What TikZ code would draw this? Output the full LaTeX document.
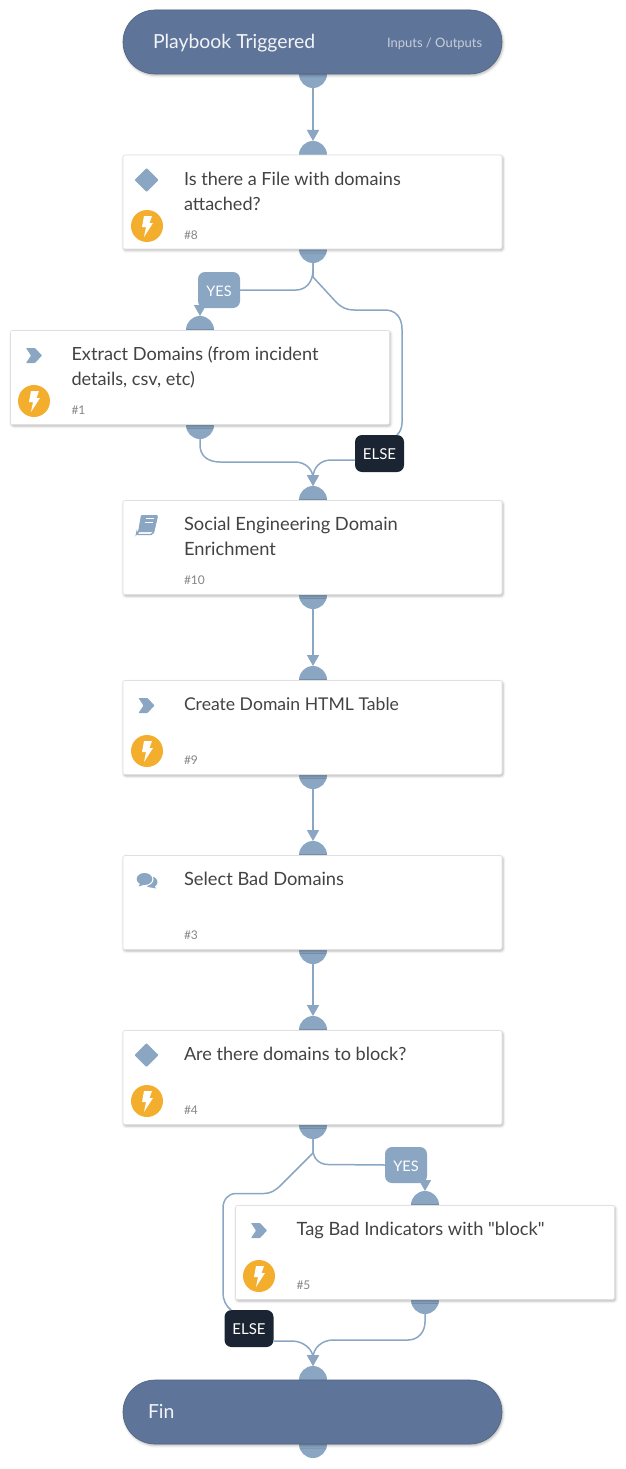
\documentclass[tikz,border=0pt]{standalone}
\usepackage{fontspec}
\setmainfont{Lato}
\newfontfamily\plainlato{Lato}
\usetikzlibrary{arrows.meta,shadows.blur}
\definecolor{portc}{HTML}{8AA6C3}
\definecolor{capc}{HTML}{5F7499}
\definecolor{darkc}{HTML}{1B2432}
\definecolor{textc}{HTML}{434343}
\definecolor{numc}{HTML}{858585}
\definecolor{boltc}{HTML}{F4AE2E}
\tikzset{
  port/.style={circle,fill=portc,draw=none,minimum size=28pt,inner sep=0pt,outer sep=0pt},
  taskbox/.style={rectangle,fill=white,draw=black!12,line width=.6pt,rounded corners=2pt,minimum width=379pt,minimum height=94pt,inner sep=0pt,outer sep=0pt,blur shadow={shadow xshift=1pt,shadow yshift=-1.5pt,shadow blur radius=2.5pt,shadow opacity=30}},
  capbox/.style={rectangle,fill=capc,draw=capc!85!black,line width=.6pt,rounded corners=32pt,minimum width=379pt,minimum height=64pt,inner sep=0pt,outer sep=0pt,blur shadow={shadow xshift=1pt,shadow yshift=-1.5pt,shadow blur radius=2.5pt,shadow opacity=30}},
  yeslab/.style={rectangle,fill=portc,rounded corners=7pt,minimum width=42pt,minimum height=36pt,inner sep=0pt,outer sep=0pt,text=white,text height=12.5pt,text depth=0pt,font=\fontsize{14.5}{18}\selectfont},
  elselab/.style={rectangle,fill=darkc,rounded corners=7pt,minimum width=49pt,minimum height=37pt,inner sep=0pt,outer sep=0pt,text=white,text height=12.5pt,text depth=0pt,font=\fontsize{15}{18}\selectfont},
  title/.style={anchor=north west,inner sep=0pt,outer sep=0pt,align=left,text=textc,font=\fontsize{18.3}{25}\selectfont},
  numlab/.style={anchor=base west,inner sep=0pt,outer sep=0pt,text=numc,font=\fontsize{12}{14}\selectfont},
  captitle/.style={anchor=base west,inner sep=0pt,outer sep=0pt,text=white!92!capc,font=\fontsize{19.4}{24}\selectfont},
  capside/.style={anchor=base west,inner sep=0pt,outer sep=0pt,text=white!65!capc,font=\fontsize{13}{16}\selectfont},
  flow/.style={draw=portc,line width=1.5pt,line join=round},
  arrowflow/.style={flow,-{Triangle[length=11pt,width=12pt]}},
  badge/.style={circle,fill=boltc,minimum size=32pt,inner sep=0pt,outer sep=0pt},
  chevicon/.pic={\fill[portc,rounded corners=.6pt] (-8,-7.5)--(1,-7.5)--(8,0)--(1,7.5)--(-8,7.5)--(-3,0)--cycle;},
  diaicon/.pic={\fill[portc,rounded corners=1pt] (0,-12)--(12,0)--(0,12)--(-12,0)--cycle;},
  boltmark/.pic={\fill[white] (-3,-10)--(5,-10)--(2.5,-3)--(6,-3)--(-3,11)--(-1,1)--(-5,1)--cycle;},
  bookicon/.pic={
    \fill[portc,rounded corners=1pt] (-6,-10)--(11,-10)--(7,7)--(-9,7)--cycle;
    \draw[portc,line width=1.4pt,rounded corners=2pt] (-7,6)--(-10,7)--(-10.5,9.5)--(6,9.5)--(10,-8);
    \draw[white,line width=1pt] (-1.5,-6.5)--(7,-6.5) (-2.5,-3)--(6,-3);
  },
  chaticon/.pic={
    \fill[portc] (4,2) ellipse [x radius=6.5,y radius=5.5];
    \fill[portc] (7,5)--(9,8.5)--(3,7)--cycle;
    \fill[white] (-2.5,-1) ellipse [x radius=9,y radius=7.2];
    \fill[white] (-7,4)--(-9.5,8.5)--(-1,6)--cycle;
    \fill[portc] (-2.5,-1) ellipse [x radius=7.8,y radius=6];
    \fill[portc] (-6.5,3)--(-8.5,6.5)--(-2,4.5)--cycle;
  },
}
\begin{document}
\begin{tikzpicture}[x=1pt,y=-1pt]
\useasboundingbox (0,0) rectangle (625,1469);
% ports
\node[port] (pSb) at (313,74) {};
\node[port] (p8t) at (313,155) {};
\node[port] (p8b) at (313,249) {};
\node[port] (p1t) at (200,330) {};
\node[port] (p1b) at (200,425) {};
\node[port] (p10t) at (313,500) {};
\node[port] (p10b) at (313,595) {};
\node[port] (p9t) at (313,680) {};
\node[port] (p9b) at (313,775) {};
\node[port] (p3t) at (313,855) {};
\node[port] (p3b) at (313,950) {};
\node[port] (p4t) at (313,1030) {};
\node[port] (p4b) at (313,1125) {};
\node[port] (p5t) at (425,1205) {};
\node[port] (p5b) at (425,1300) {};
\node[port] (pFt) at (313,1380) {};
\node[port] (pFb) at (313,1444) {};
% branch labels
\node[yeslab] (yes1) at (219,290) {YES};
\node[elselab] (else1) at (379.5,453.5) {ELSE};
\node[yeslab] (yes2) at (406,1165) {YES};
\node[elselab] (else2) at (249,1328.5) {ELSE};
% connectors
\draw[arrowflow] (pSb.south) -- (p8t.north);
\draw[flow] (p8b.south) -- (313,270) .. controls (313,282) and (306,290) .. (296,290) -- (yes1.east);
\draw[arrowflow] (yes1.south -| p1t.north) -- (p1t.north);
\draw[flow] (p8b.south) -- (313,277) -- (336,302) .. controls (342,308) and (347,310) .. (354,310) -- (385,310) .. controls (396,310) and (402,318) .. (402,329) -- (402,423) .. controls (402,428) and (400,432) .. (397,435) coordinate (e1in);
\draw[arrowflow] (p1b.south) -- (200,445) .. controls (200,456) and (208,462) .. (220,462) -- (295,462) .. controls (306,462) and (313,470) .. (313,478) -- (p10t.north);
\draw[arrowflow] (else1.west |- 355,460) -- (331,460) .. controls (320,460) and (313,468) .. (313,478) -- (p10t.north);
\draw[arrowflow] (p10b.south) -- (p9t.north);
\draw[arrowflow] (p9b.south) -- (p3t.north);
\draw[arrowflow] (p3b.south) -- (p4t.north);
\draw[flow] (p4b.south) -- (313,1150) .. controls (313,1158) and (319,1164.5) .. (328,1164.5) -- (yes2.west);
\draw[arrowflow] (yes2.south -| p5t.north) -- (p5t.north);
\draw[flow] (p4b.south) -- (313,1153) -- (281,1185) .. controls (275,1191) and (270,1193.5) .. (264,1193.5) -- (236,1193.5) .. controls (228,1193.5) and (223,1200) .. (223,1208) -- (223,1293) .. controls (223,1300) and (226,1306) .. (231,1310) coordinate (e2in);
\draw[arrowflow] (else2.east |- 274,1341) -- (292,1341) .. controls (303,1341) and (313,1349) .. (313,1358) -- (pFt.north);
\draw[arrowflow] (p5b.south) -- (425,1322) .. controls (425,1332) and (418,1340) .. (408,1340) -- (333,1340) .. controls (322,1340) and (313,1348) .. (313,1358) -- (pFt.north);
% boxes
\node[capbox] (nS) at (312.5,42) {};
\node[taskbox] (n8) at (312.5,202) {};
\node[taskbox] (n1) at (200,377.5) {};
\node[taskbox] (n10) at (312.5,547.5) {};
\node[taskbox] (n9) at (312.5,727.5) {};
\node[taskbox] (n3) at (312.5,902.5) {};
\node[taskbox] (n4) at (312.5,1077.5) {};
\node[taskbox] (n5) at (425,1252.5) {};
\node[capbox] (nF) at (312.5,1412) {};
% cap text
\node[captitle] (tS) at (153,48.7) {Playbook Triggered};
\node[capside] (tIO) at (387,47.3) {Inputs / Outputs};
\node[captitle] (tF) at (148,1418.7) {Fin};
% titles
\node[title,font=\fontsize{18.1}{25}\selectfont] (t8) at (184,167.5) {\strut Is there a File with domains\\\strut attached?};
\node[title,font=\fontsize{18.15}{25}\selectfont] (t1) at (71.5,342.5) {\strut Extract Domains (from incident\\\strut details, csv, etc)};
\node[title] (t10) at (184,512.5) {\strut Social Engineering Domain\\\strut Enrichment};
\node[title,font=\fontsize{17.6}{25}\selectfont] (t9) at (184,692.5) {\strut Create Domain HTML Table};
\node[title] (t3) at (184,867.5) {\strut Select Bad Domains};
\node[title,font=\fontsize{18.1}{25}\selectfont] (t4) at (184,1042.5) {\strut Are there domains to block?};
\node[title] (t5) at (296.5,1217.5) {\strut Tag Bad Indicators with {\plainlato "}block{\plainlato "}};
% numbers
\node[numlab] (h8) at (184,239) {\#8};
\node[numlab] (h1) at (71.5,414) {\#1};
\node[numlab] (h10) at (184,584) {\#10};
\node[numlab] (h9) at (184,764) {\#9};
\node[numlab] (h3) at (184,939) {\#3};
\node[numlab] (h4) at (184,1114) {\#4};
\node[numlab] (h5) at (296.5,1289) {\#5};
% icons
\pic at (146.5,180) {diaicon};
\pic at (146.5,1055) {diaicon};
\pic at (34,355.5) {chevicon};
\pic at (146.5,705.5) {chevicon};
\pic at (259,1230.5) {chevicon};
\pic at (147,525) {bookicon};
\pic at (147,880) {chaticon};
% badges
\node[badge] (b8) at (147,226) {};
\node[badge] (b1) at (34,401) {};
\node[badge] (b9) at (147,751) {};
\node[badge] (b4) at (147,1101) {};
\node[badge] (b5) at (259,1276) {};
\pic at (b8) {boltmark};
\pic at (b1) {boltmark};
\pic at (b9) {boltmark};
\pic at (b4) {boltmark};
\pic at (b5) {boltmark};
\end{tikzpicture}
\end{document}
